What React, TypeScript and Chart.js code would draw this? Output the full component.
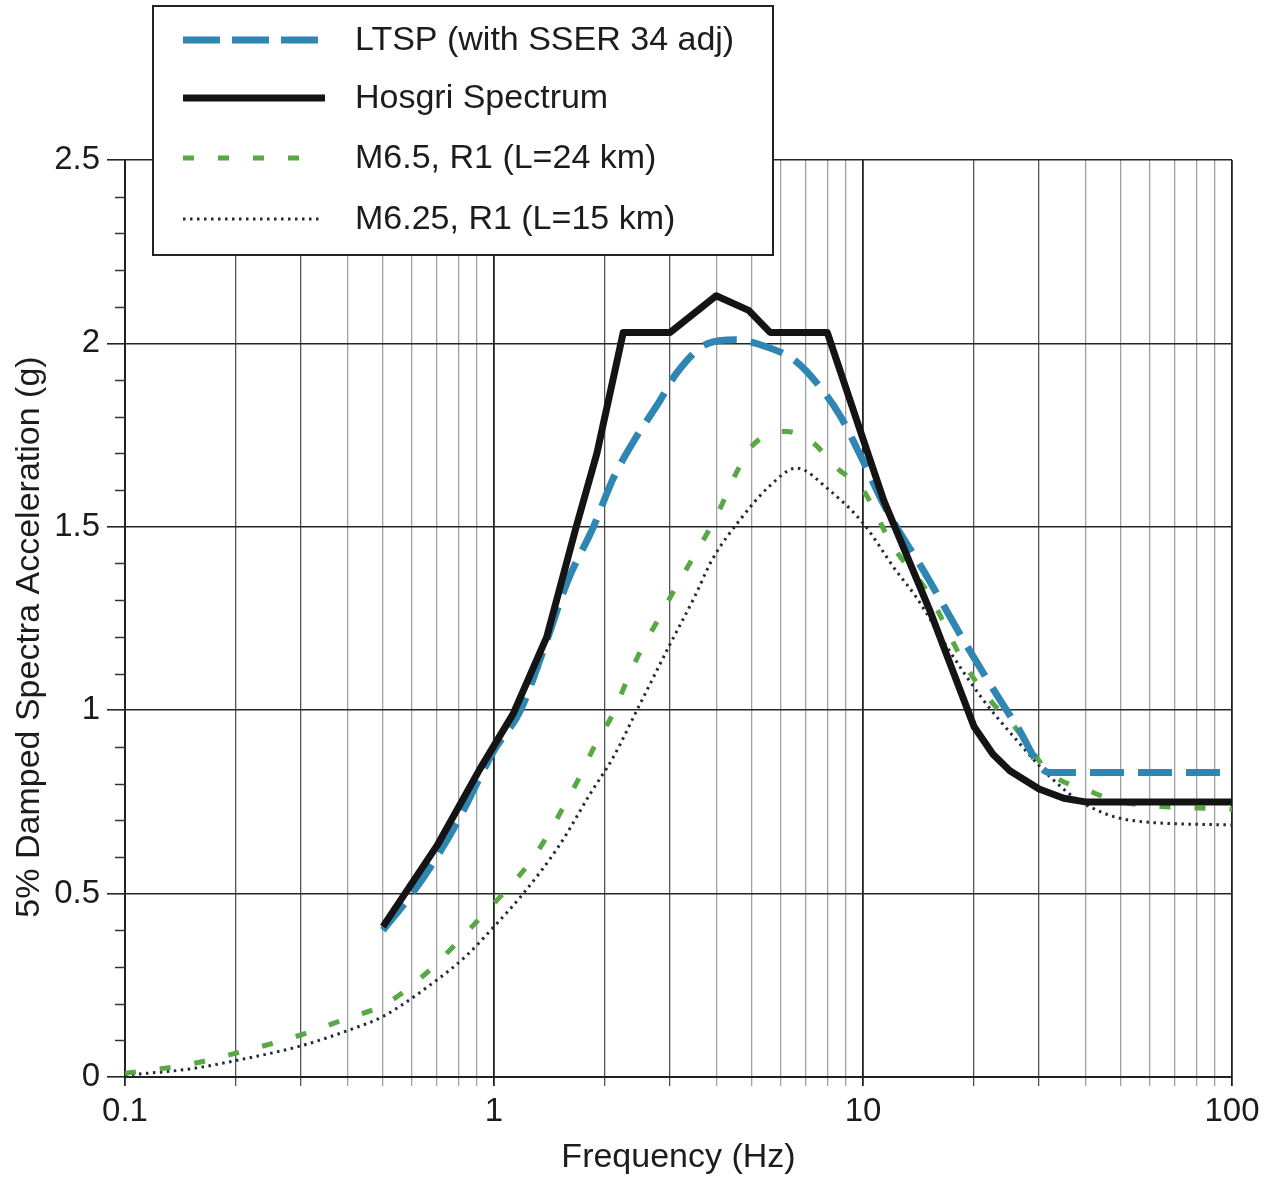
import React, { useEffect, useRef } from 'react';
import { Chart, registerables } from 'chart.js';

Chart.register(...registerables);

// ---------- data ----------
const seriesLabels = [
  'LTSP (with SSER 34 adj)',
  'Hosgri Spectrum',
  'M6.5, R1 (L=24 km)',
  'M6.25, R1 (L=15 km)',
];
const xAxisTitle = 'Frequency (Hz)';
const yAxisTitle = '5% Damped Spectra Acceleration (g)';

const ltspFreq = [0.5, 0.6, 0.7, 0.8, 1.0, 1.18, 1.39, 1.58, 1.86, 2.1, 2.38, 2.8, 3.13, 3.8, 4.5, 5.5, 6.6, 7.8, 8.7, 10, 11.4, 15, 19, 26, 32, 100];
const ltspAcc = [0.40, 0.50, 0.60, 0.70, 0.89, 1.0, 1.19, 1.35, 1.50, 1.63, 1.73, 1.84, 1.92, 2.0, 2.01, 1.99, 1.95, 1.87, 1.80, 1.68, 1.56, 1.36, 1.18, 0.96, 0.83, 0.83];

const hosgriFreq = [0.5, 0.7, 0.916, 1.127, 1.39, 1.67, 1.9, 2.1, 2.24, 3.0, 4.0, 4.9, 5.6, 8.0, 10, 11.4, 15.2, 20, 22.5, 25, 30, 35, 40, 100];
const hosgriAcc = [0.41, 0.63, 0.84, 0.99, 1.20, 1.50, 1.70, 1.90, 2.03, 2.03, 2.13, 2.09, 2.03, 2.03, 1.74, 1.57, 1.27, 0.955, 0.88, 0.835, 0.785, 0.76, 0.75, 0.75];

const m65Freq = [0.1, 0.15, 0.2, 0.3, 0.4, 0.5, 0.6, 0.7, 0.8, 0.93, 1.08, 1.24, 1.4, 1.54, 1.71, 1.88, 2.1, 2.29, 2.49, 2.76, 3.05, 3.39, 3.77, 4.1, 4.5, 5.0, 6.2, 7.3, 8.5, 10, 12, 15, 19, 22, 26, 32, 41, 50, 100];
const m65Acc = [0.01, 0.035, 0.065, 0.115, 0.16, 0.195, 0.25, 0.31, 0.37, 0.44, 0.51, 0.58, 0.66, 0.735, 0.82, 0.905, 0.99, 1.08, 1.16, 1.24, 1.32, 1.40, 1.48, 1.55, 1.64, 1.72, 1.76, 1.73, 1.66, 1.60, 1.45, 1.32, 1.12, 1.03, 0.95, 0.83, 0.78, 0.75, 0.73];

const m625Freq = [0.1, 0.15, 0.2, 0.3, 0.41, 0.5, 0.68, 0.84, 1.0, 1.2, 1.5, 1.83, 2.1, 2.44, 3.0, 3.5, 3.9, 4.65, 5.57, 6.6, 8.1, 10, 12.3, 13.9, 17.2, 21.1, 26, 32, 39, 53, 100];
const m625Acc = [0.005, 0.022, 0.045, 0.085, 0.13, 0.165, 0.255, 0.33, 0.41, 0.50, 0.63, 0.775, 0.87, 1.0, 1.18, 1.31, 1.41, 1.52, 1.61, 1.66, 1.60, 1.51, 1.38, 1.31, 1.16, 1.03, 0.92, 0.82, 0.75, 0.70, 0.687];

const xTickValues = [
  0.1, 0.2, 0.3, 0.4, 0.5, 0.6, 0.7, 0.8, 0.9,
  1, 2, 3, 4, 5, 6, 7, 8, 9,
  10, 20, 30, 40, 50, 60, 70, 80, 90,
  100,
];
const xTickLabels = ['0.1', '1', '10', '100'];
const yTickLabels = ['0', '0.5', '1', '1.5', '2', '2.5'];
const yMinorTicks = [0.1, 0.2, 0.3, 0.4, 0.6, 0.7, 0.8, 0.9, 1.1, 1.2, 1.3, 1.4, 1.6, 1.7, 1.8, 1.9, 2.1, 2.2, 2.3, 2.4];

const FONT = '"Liberation Sans", Arial, Helvetica, sans-serif';
const TEXT = '#1c1c1c';

const toPoints = (xs: number[], ys: number[]) => xs.map((x, i) => ({ x, y: ys[i] }));

const isDecade = (v: number) => {
  const l = Math.log10(v);
  return Math.abs(l - Math.round(l)) < 1e-6;
};
const leadDigit = (v: number) => Math.round(v / Math.pow(10, Math.floor(Math.log10(v) + 1e-9)));

const legendSpecs = [
  { color: '#2f86b3', width: 7, dash: [37, 12] },
  { color: '#141414', width: 7, dash: [] as number[] },
  { color: '#58a845', width: 5, dash: [11, 24] },
  { color: '#222a3a', width: 3, dash: [2.5, 4.5] },
];

const extrasPlugin = {
  id: 'extras',
  afterDraw(chart: any) {
    const ctx = chart.ctx as CanvasRenderingContext2D;
    const yScale = chart.scales.y;
    const area = chart.chartArea;
    ctx.save();
    // minor y ticks
    ctx.strokeStyle = '#333';
    ctx.lineWidth = 1.5;
    yMinorTicks.forEach((v) => {
      const py = Math.round(yScale.getPixelForValue(v)) + 0.5;
      ctx.beginPath();
      ctx.moveTo(area.left - 10, py);
      ctx.lineTo(area.left, py);
      ctx.stroke();
    });
    // y axis title
    ctx.save();
    ctx.translate(30, 637);
    ctx.rotate(-Math.PI / 2);
    ctx.font = `34px ${FONT}`;
    ctx.fillStyle = TEXT;
    ctx.textAlign = 'center';
    ctx.textBaseline = 'middle';
    ctx.fillText(yAxisTitle, 0, 0);
    ctx.restore();
    // legend box
    const bx = 153, by = 6, bw = 620, bh = 249;
    ctx.fillStyle = '#ffffff';
    ctx.fillRect(bx, by, bw, bh);
    ctx.strokeStyle = '#222';
    ctx.lineWidth = 2;
    ctx.strokeRect(bx, by, bw, bh);
    const rowsY = [40, 98, 158, 219];
    const sampleEnd = [320, 325, 305, 322];
    ctx.font = `34px ${FONT}`;
    ctx.textBaseline = 'middle';
    ctx.textAlign = 'left';
    seriesLabels.forEach((label, i) => {
      const s = legendSpecs[i];
      ctx.beginPath();
      ctx.strokeStyle = s.color;
      ctx.lineWidth = s.width;
      ctx.lineCap = 'butt';
      ctx.setLineDash(s.dash);
      ctx.moveTo(183, rowsY[i]);
      ctx.lineTo(sampleEnd[i], rowsY[i]);
      ctx.stroke();
      ctx.setLineDash([]);
      ctx.fillStyle = TEXT;
      ctx.fillText(label, 355, rowsY[i] + 1);
    });
    ctx.restore();
  },
};

export default function App() {
  const canvasRef = useRef<HTMLCanvasElement | null>(null);

  useEffect(() => {
    const canvas = canvasRef.current;
    if (!canvas) return;
    const chart = new Chart(canvas, {
      type: 'line',
      data: {
        datasets: [
          {
            label: seriesLabels[1],
            data: toPoints(hosgriFreq, hosgriAcc),
            borderColor: '#141414',
            borderWidth: 7,
            pointRadius: 0,
            tension: 0,
            borderJoinStyle: 'round',
            order: 1,
          },
          {
            label: seriesLabels[0],
            data: toPoints(ltspFreq, ltspAcc),
            borderColor: '#2f86b3',
            borderWidth: 7,
            borderDash: [34, 14],
            pointRadius: 0,
            cubicInterpolationMode: 'monotone',
            order: 2,
          },
          {
            label: seriesLabels[2],
            data: toPoints(m65Freq, m65Acc),
            borderColor: '#58a845',
            borderWidth: 5,
            borderDash: [11, 24],
            pointRadius: 0,
            cubicInterpolationMode: 'monotone',
            order: 3,
          },
          {
            label: seriesLabels[3],
            data: toPoints(m625Freq, m625Acc),
            borderColor: '#222a3a',
            borderWidth: 3,
            borderDash: [2.5, 4.5],
            pointRadius: 0,
            cubicInterpolationMode: 'monotone',
            order: 4,
          },
        ],
      },
      options: {
        animation: false,
        responsive: false,
        devicePixelRatio: 1,
        layout: { padding: { left: 0, right: 43, top: 160, bottom: 0 } },
        plugins: {
          legend: { display: false },
          tooltip: { enabled: false },
        },
        scales: {
          x: {
            type: 'logarithmic',
            min: 0.1,
            max: 100,
            afterBuildTicks: (scale: any) => {
              scale.ticks = xTickValues.map((v) => ({ value: v }));
            },
            afterFit: (scale: any) => {
              scale.height = 101;
            },
            ticks: {
              autoSkip: false,
              maxRotation: 0,
              minRotation: 0,
              padding: 6,
              color: TEXT,
              font: { family: FONT, size: 33 },
              callback: (value: any) => {
                const v = Number(value);
                if (!isDecade(v)) return '';
                const idx = Math.round(Math.log10(v)) + 1;
                return xTickLabels[idx] ?? '';
              },
            },
            grid: {
              drawOnChartArea: true,
              drawTicks: true,
              tickLength: 9,
              color: (c: any) => {
                const v = c.tick?.value;
                if (v === undefined) return '#999';
                if (isDecade(v)) return '#222';
                const d = leadDigit(v);
                return d <= 3 ? '#555' : '#a0a0a0';
              },
              lineWidth: (c: any) => {
                const v = c.tick?.value;
                if (v !== undefined && isDecade(v)) return 1.8;
                return 1.3;
              },
            },
            border: { display: true, color: '#222', width: 2 },
            title: {
              display: true,
              text: xAxisTitle,
              color: TEXT,
              font: { family: FONT, size: 34 },
              padding: { top: 4, bottom: 0 },
            },
          },
          y: {
            type: 'linear',
            min: 0,
            max: 2.5,
            afterFit: (scale: any) => {
              scale.width = 125;
            },
            ticks: {
              stepSize: 0.5,
              padding: 7,
              color: TEXT,
              font: { family: FONT, size: 33 },
              callback: (value: any) => {
                const idx = Math.round(Number(value) / 0.5);
                return yTickLabels[idx] ?? '';
              },
            },
            grid: {
              color: '#262626',
              lineWidth: 1.6,
              tickLength: 18,
              drawTicks: true,
            },
            border: { display: true, color: '#222', width: 2 },
            title: { display: false },
          },
        },
      },
      plugins: [extrasPlugin],
    } as any);
    return () => chart.destroy();
  }, []);

  return (
    <div style={{ position: 'absolute', left: 0, top: 0, width: 1275, height: 1178, background: '#fff' }}>
      <canvas ref={canvasRef} width={1275} height={1178} style={{ display: 'block' }} />
    </div>
  );
}
